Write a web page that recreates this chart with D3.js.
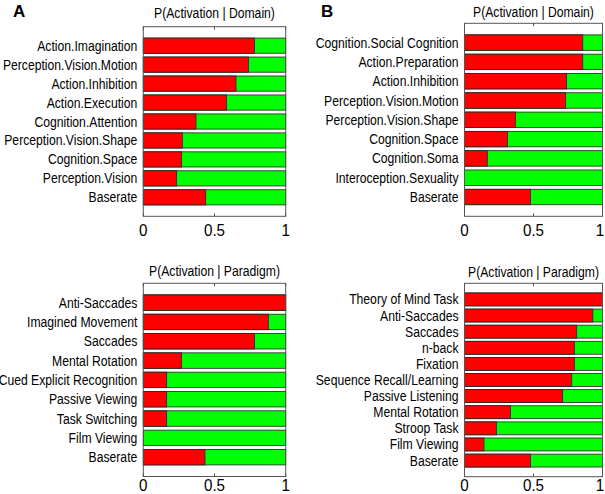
<!DOCTYPE html>
<html>
<head>
<meta charset="utf-8">
<script src="https://cdn.jsdelivr.net/npm/d3@7"></script>
<style>
html,body{margin:0;padding:0;background:#fff;}
svg{display:block;}
text{font-family:"Liberation Sans",Arial,sans-serif;fill:#000;}
</style>
</head>
<body>
<svg id="chart" width="605" height="494"></svg>
<script>
// ---- Data ----
const aDomainCategories = ["Action.Imagination","Perception.Vision.Motion","Action.Inhibition","Action.Execution","Cognition.Attention","Perception.Vision.Shape","Cognition.Space","Perception.Vision","Baserate"];
const aDomainValues = [0.78,0.738,0.651,0.585,0.37,0.274,0.269,0.234,0.438];

const bDomainCategories = ["Cognition.Social Cognition","Action.Preparation","Action.Inhibition","Perception.Vision.Motion","Perception.Vision.Shape","Cognition.Space","Cognition.Soma","Interoception.Sexuality","Baserate"];
const bDomainValues = [0.857,0.857,0.74,0.733,0.369,0.311,0.165,0,0.478];

const aParadigmCategories = ["Anti-Saccades","Imagined Movement","Saccades","Mental Rotation","Cued Explicit Recognition","Passive Viewing","Task Switching","Film Viewing","Baserate"];
const aParadigmValues = [1.0,0.878,0.78,0.269,0.164,0.164,0.164,0,0.433];

const bParadigmCategories = ["Theory of Mind Task","Anti-Saccades","Saccades","n-back","Fixation","Sequence Recall/Learning","Passive Listening","Mental Rotation","Stroop Task","Film Viewing","Baserate"];
const bParadigmValues = [1.0,0.93,0.813,0.796,0.796,0.777,0.711,0.333,0.231,0.141,0.478];

const xTickValues = [0, 0.5, 1];
const xTickLabels = ["0","0.5","1"];
const titles = ["P(Activation | Domain)","P(Activation | Paradigm)"];
const panelLetters = ["A","B"];

// ---- Layout ----
const panels = [
  {cats:aDomainCategories, vals:aDomainValues, title:titles[0], letter:panelLetters[0], x0:143.3, x1:285.7, y0:26.7, y1:216.3, titleY:18, tickY:236, letterX:13, letterY:17},
  {cats:bDomainCategories, vals:bDomainValues, title:titles[0], letter:panelLetters[1], x0:464.5, x1:602.5, y0:23.3, y1:216.3, titleY:17, tickY:236, letterX:321, letterY:17},
  {cats:aParadigmCategories, vals:aParadigmValues, title:titles[1], letter:null, x0:143.3, x1:285.7, y0:283.3, y1:476.5, titleY:276, tickY:491},
  {cats:bParadigmCategories, vals:bParadigmValues, title:titles[1], letter:null, x0:464.5, x1:602.5, y0:283.3, y1:476.7, titleY:277, tickY:491}
];

const W = 605;
const svg = d3.select("#chart");
const RED = "#ff0000", GREEN = "#00ff00";
const FS = 14, SX = 0.87;

function condText(g, x, y, s, size, anchor, sx) {
  return g.append("text")
    .attr("transform", `translate(${x},${y}) scale(${sx},1)`)
    .attr("text-anchor", anchor).attr("font-size", size).text(s);
}

panels.forEach(p => {
  const n = p.cats.length;
  const x = d3.scaleLinear().domain([0,1]).range([p.x0, p.x1]);
  const y = d3.scaleLinear().domain([0, n+1]).range([p.y0, p.y1]);
  const bh = y(0.8) - y(0);
  const g = svg.append("g");

  g.append("rect").attr("x", p.x0).attr("y", p.y0).attr("width", p.x1-p.x0).attr("height", p.y1-p.y0)
    .attr("fill","#fff");

  const data = p.cats.map((c,i)=>({c, v:p.vals[i], i}));
  const rows = g.selectAll("g.row").data(data).join("g").attr("class","row");
  rows.append("rect")
    .attr("x", x(0)).attr("width", x(1)-x(0))
    .attr("y", d => y(d.i+1) - bh/2).attr("height", bh)
    .attr("fill", GREEN).attr("stroke","#222").attr("stroke-width",0.8);
  rows.filter(d => d.v > 0).append("rect")
    .attr("x", x(0)).attr("width", d => x(d.v)-x(0))
    .attr("y", d => y(d.i+1) - bh/2).attr("height", bh)
    .attr("fill", RED).attr("stroke","#222").attr("stroke-width",0.8);
  data.forEach(d => {
    condText(g, p.x0 - 6, y(d.i+1) + 5, d.c, FS, "end", SX);
  });

  g.append("rect").attr("x", p.x0).attr("y", p.y0).attr("width", p.x1-p.x0).attr("height", p.y1-p.y0)
    .attr("fill","none").attr("stroke","#555").attr("stroke-width",1);

  xTickValues.forEach(t => {
    g.append("line").attr("x1", x(t)).attr("x2", x(t)).attr("y1", p.y1).attr("y2", p.y1-3).attr("stroke","#555");
    g.append("line").attr("x1", x(t)).attr("x2", x(t)).attr("y1", p.y0).attr("y2", p.y0+3).attr("stroke","#555");
  });
  xTickValues.forEach((t,i) => {
    const tx = Math.min(x(t), W - 5);
    condText(g, tx, p.tickY, xTickLabels[i], 16, "middle", 0.95);
  });

  condText(g, (p.x0+p.x1)/2, p.titleY, p.title, FS, "middle", SX);

  if (p.letter) {
    g.append("text").attr("x", p.letterX).attr("y", p.letterY).attr("font-size", 17)
      .attr("font-weight","bold").text(p.letter);
  }
});
</script>
</body>
</html>
